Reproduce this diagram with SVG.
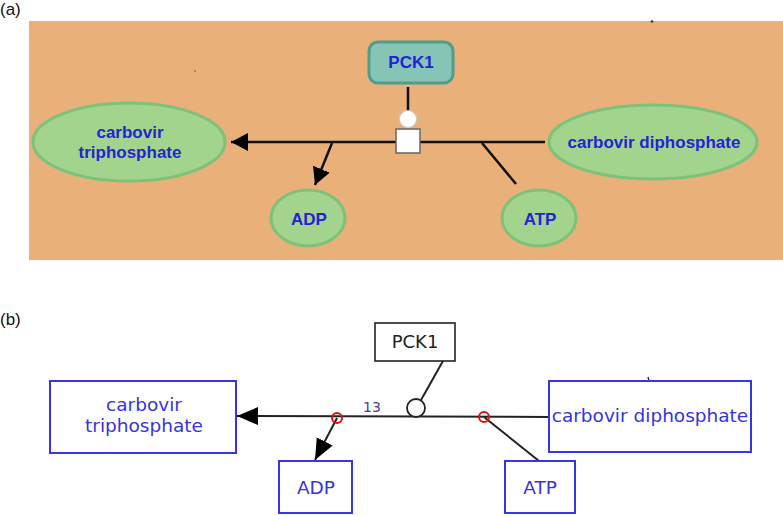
<svg xmlns="http://www.w3.org/2000/svg" width="783" height="516" viewBox="0 0 783 516">
<style>
.panel{font-family:"Liberation Sans",Arial,sans-serif;font-size:17px;fill:#111}
.ta{font-family:"Liberation Sans",Arial,sans-serif;font-weight:bold;font-size:17px;fill:#2323d6;text-anchor:middle}
.tb{font-family:"DejaVu Sans",sans-serif;font-size:18.5px;fill:#3434e0;text-anchor:middle}
.ell{fill:#a3d48e;stroke:#7dc27a;stroke-width:3}
.la{stroke:#111;stroke-width:2.5;fill:none}
.lb{stroke:#222;stroke-width:2;fill:none}
.box{fill:#fff;stroke:#3535ee;stroke-width:2}
.red{fill:none;stroke:#e01010;stroke-width:2}
</style>
<defs>
<marker id="ah" markerUnits="userSpaceOnUse" markerWidth="18" markerHeight="20" refX="17" refY="9" orient="auto">
<path d="M0,0 L17,9 L0,18 z" fill="#000"/>
</marker>
<marker id="bh" markerUnits="userSpaceOnUse" markerWidth="22" markerHeight="20" refX="21" refY="9" orient="auto">
<path d="M0,0 L21,9 L0,18 z" fill="#000"/>
</marker>
</defs>
<rect width="783" height="516" fill="#fff"/>
<text class="panel" x="0" y="15">(a)</text>
<rect x="29" y="21" width="754" height="239" fill="#e9b07a"/>
<circle cx="652" cy="21.5" r="1.3" fill="#333"/>
<circle cx="195" cy="71" r="0.8" fill="#8a4a2a"/>
<g id="a-edges">
<line class="la" x1="545" y1="142" x2="231" y2="142" marker-end="url(#ah)"/>
<line class="la" x1="332" y1="143" x2="315" y2="185" marker-end="url(#ah)"/>
<line class="la" x1="482" y1="143" x2="516" y2="184"/>
<line class="la" x1="408" y1="87" x2="408" y2="111"/>
</g>
<g id="a-process">
<rect x="396" y="129" width="24" height="24" fill="#fff" stroke="#666" stroke-width="1.5"/>
<ellipse cx="408" cy="119" rx="8.5" ry="8.5" fill="#fff" stroke="#ccc" stroke-width="1"/>
</g>
<g id="a-pck1">
<rect x="369" y="42" width="84" height="41" rx="9" fill="#86c5b5" stroke="#4f9d8a" stroke-width="3"/>
<text class="ta" x="411" y="68">PCK1</text>
</g>
<g id="a-ctp">
<ellipse class="ell" cx="129" cy="142" rx="96" ry="39"/>
<text class="ta" x="130" y="138">carbovir</text>
<text class="ta" x="130" y="158">triphosphate</text>
</g>
<g id="a-cdp">
<ellipse class="ell" cx="653" cy="142" rx="104" ry="37"/>
<text class="ta" x="654" y="148">carbovir diphosphate</text>
</g>
<g id="a-adp">
<ellipse class="ell" cx="308" cy="218" rx="37" ry="28"/>
<text class="ta" x="309" y="225">ADP</text>
</g>
<g id="a-atp">
<ellipse class="ell" cx="539" cy="218" rx="37" ry="28"/>
<text class="ta" x="540" y="225">ATP</text>
</g>
<text class="panel" x="0" y="325">(b)</text>
<g id="b-edges">
<line class="lb" x1="550" y1="417" x2="237" y2="416" marker-end="url(#bh)"/>
<line class="lb" x1="337" y1="418" x2="315" y2="460" marker-end="url(#bh)"/>
<line class="lb" x1="484" y1="417" x2="539" y2="461"/>
<line class="lb" x1="443" y1="361" x2="421" y2="400"/>
<circle cx="416" cy="408" r="9" fill="#fff" stroke="#222" stroke-width="1.8"/>
<circle class="red" cx="337" cy="418" r="5"/>
<circle class="red" cx="484" cy="417" r="5"/>
<text x="372" y="412" font-family="DejaVu Sans,sans-serif" font-size="14" fill="#3d3daa" text-anchor="middle">13</text>
<path d="M648,377 L649,381" stroke="#222" stroke-width="1.3"/>
</g>
<g id="b-pck1">
<rect x="375" y="323" width="80" height="38" fill="#fff" stroke="#222" stroke-width="1.6"/>
<text x="415" y="348" font-family="DejaVu Sans,sans-serif" font-size="18" fill="#222" text-anchor="middle">PCK1</text>
</g>
<g id="b-ctp">
<rect class="box" x="50" y="381" width="186" height="72"/>
<text class="tb" x="144" y="411">carbovir</text>
<text class="tb" x="144" y="432">triphosphate</text>
</g>
<g id="b-cdp">
<rect class="box" x="549" y="381" width="202" height="71"/>
<text class="tb" x="650" y="422">carbovir diphosphate</text>
</g>
<g id="b-adp">
<rect class="box" x="279" y="461" width="73" height="52"/>
<text class="tb" x="316" y="494">ADP</text>
</g>
<g id="b-atp">
<rect class="box" x="505" y="461" width="70" height="52"/>
<text class="tb" x="540" y="494">ATP</text>
</g>
</svg>
